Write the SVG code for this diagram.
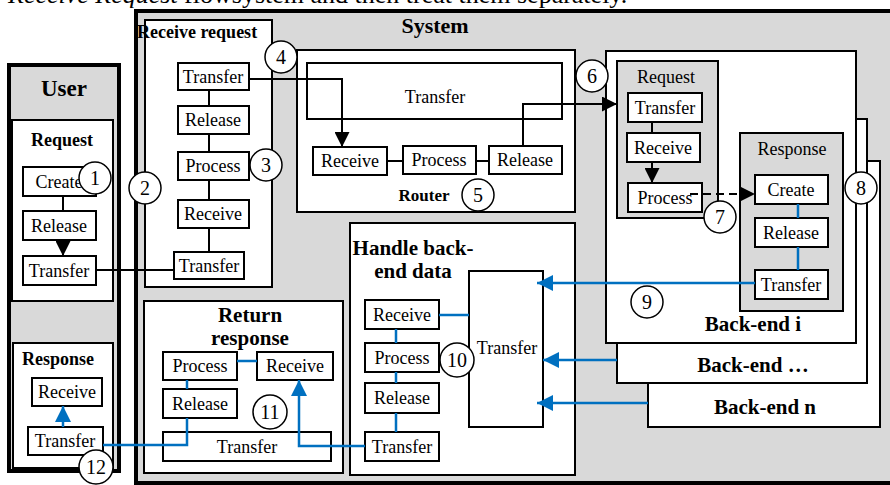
<svg xmlns="http://www.w3.org/2000/svg" width="890" height="485" viewBox="0 0 890 485">
<style>
text{font-family:"Liberation Serif","Times New Roman",serif;fill:#000}
.lbl{font-size:18px;text-anchor:middle}
.ttl{font-size:18px;font-weight:bold;text-anchor:middle}
.big{font-size:21px;font-weight:bold;text-anchor:middle}
.num{font-size:20px;text-anchor:middle}
.box{fill:#fff;stroke:#000;stroke-width:2}
.pan{fill:#fff;stroke:#000;stroke-width:2}
.gray{fill:#d9d9d9;stroke:#000;stroke-width:2}
.blk{fill:none;stroke:#000;stroke-width:2}
.blu{fill:none;stroke:#0070c0;stroke-width:2.5}
.cir{fill:#fff;stroke:#000;stroke-width:1.5}
</style>
<defs>
<marker id="ab" viewBox="0 0 10 10" refX="10" refY="5" markerWidth="15" markerHeight="15" markerUnits="userSpaceOnUse" orient="auto"><path d="M0,0L10,5L0,10z" fill="#000"/></marker>
<marker id="au" viewBox="0 0 10 10" refX="10" refY="5" markerWidth="16" markerHeight="16" markerUnits="userSpaceOnUse" orient="auto"><path d="M0,0L10,5L0,10z" fill="#0070c0"/></marker>
</defs>

<text x="8" y="3" style="font-size:26px"><tspan font-style="italic">Receive Request</tspan> flowsystem and then treat them separately.</text>

<g id="system">
<rect x="136" y="11" width="770" height="472" fill="#d9d9d9" stroke="#000" stroke-width="4"/>
<text x="435" y="33" style="font-size:22px;font-weight:bold;text-anchor:middle">System</text>
</g>

<g id="user">
<rect x="9" y="65" width="110" height="406" fill="#d9d9d9" stroke="#000" stroke-width="4"/>
<text x="64" y="96" style="font-size:23px;font-weight:bold;text-anchor:middle">User</text>
<g id="user-request">
<rect class="pan" x="12" y="120" width="101" height="181"/>
<text class="ttl" x="62" y="146">Request</text>
<g id="u-create"><rect class="box" x="23" y="167" width="73" height="29"/><text class="lbl" x="59" y="188">Create</text></g>
<g id="u-release"><rect class="box" x="23" y="211" width="73" height="29"/><text class="lbl" x="59" y="232">Release</text></g>
<g id="u-transfer"><rect class="box" x="23" y="256" width="73" height="29"/><text class="lbl" x="59" y="277">Transfer</text></g>
</g>
<g id="user-response">
<rect class="pan" x="13" y="343" width="100" height="125"/>
<text class="ttl" x="58" y="365">Response</text>
<g id="u-receive"><rect class="box" x="32" y="378" width="70" height="28"/><text class="lbl" x="67" y="398">Receive</text></g>
<g id="u-transfer2"><rect class="box" x="28" y="427" width="75" height="28"/><text class="lbl" x="65" y="447">Transfer</text></g>
</g>
</g>

<g id="receive-request">
<rect class="pan" x="145" y="20" width="127" height="267"/>
<text x="137" y="38" style="font-size:18px;font-weight:bold">Receive request</text>
<g id="rr-transfer"><rect class="box" x="178" y="63" width="71" height="27"/><text class="lbl" x="213" y="83">Transfer</text></g>
<g id="rr-release"><rect class="box" x="178" y="106" width="71" height="28"/><text class="lbl" x="213" y="126">Release</text></g>
<g id="rr-process"><rect class="box" x="178" y="152" width="71" height="28"/><text class="lbl" x="213" y="172">Process</text></g>
<g id="rr-receive"><rect class="box" x="178" y="200" width="71" height="28"/><text class="lbl" x="213" y="220">Receive</text></g>
<g id="rr-transfer2"><rect class="box" x="174" y="252" width="70" height="27"/><text class="lbl" x="209" y="272">Transfer</text></g>
</g>

<g id="router">
<rect class="pan" x="297" y="50" width="278" height="162"/>
<rect class="box" x="307" y="63" width="255" height="56"/>
<text class="lbl" x="435" y="103">Transfer</text>
<g id="ro-receive"><rect class="box" x="313" y="147" width="74" height="28"/><text class="lbl" x="350" y="167">Receive</text></g>
<g id="ro-process"><rect class="box" x="403" y="146" width="73" height="28"/><text class="lbl" x="439" y="166">Process</text></g>
<g id="ro-release"><rect class="box" x="489" y="146" width="73" height="28"/><text class="lbl" x="525" y="166">Release</text></g>
<text x="424" y="201" style="font-size:17px;font-weight:bold;text-anchor:middle">Router</text>
</g>

<g id="backend-n">
<rect class="pan" x="648" y="161" width="232" height="266"/>
<text class="big" x="765" y="414">Back-end n</text>
</g>
<g id="backend-dots">
<rect class="pan" x="617" y="119" width="250" height="264"/>
<text class="big" x="753" y="372">Back-end …</text>
</g>
<g id="backend-i">
<rect class="pan" x="606" y="51" width="250" height="292"/>
<text class="big" x="753" y="331">Back-end i</text>
<g id="be-request">
<rect class="gray" x="617" y="61" width="101" height="157"/>
<text class="lbl" x="666" y="83">Request</text>
<g id="be-transfer"><rect class="box" x="628" y="93" width="74" height="29"/><text class="lbl" x="665" y="114">Transfer</text></g>
<g id="be-receive"><rect class="box" x="627" y="133" width="73" height="29"/><text class="lbl" x="663" y="154">Receive</text></g>
<g id="be-process"><rect class="box" x="628" y="183" width="74" height="29"/><text class="lbl" x="665" y="204">Process</text></g>
</g>
<g id="be-response">
<rect class="gray" x="740" y="133" width="103" height="178"/>
<text class="lbl" x="792" y="155">Response</text>
<g id="be-create"><rect class="box" x="755" y="175" width="73" height="29"/><text class="lbl" x="791" y="196">Create</text></g>
<g id="be-release"><rect class="box" x="755" y="218" width="73" height="29"/><text class="lbl" x="791" y="239">Release</text></g>
<g id="be-transfer2"><rect class="box" x="755" y="270" width="73" height="29"/><text class="lbl" x="791" y="291">Transfer</text></g>
</g>
</g>

<g id="handle">
<rect class="pan" x="350" y="223" width="225" height="252"/>
<text class="big" x="413" y="255">Handle back-</text>
<text class="big" x="413" y="278">end data</text>
<g id="h-receive"><rect class="box" x="365" y="300" width="74" height="29"/><text class="lbl" x="402" y="321">Receive</text></g>
<g id="h-process"><rect class="box" x="365" y="343" width="74" height="29"/><text class="lbl" x="402" y="364">Process</text></g>
<g id="h-release"><rect class="box" x="365" y="383" width="74" height="30"/><text class="lbl" x="402" y="404">Release</text></g>
<g id="h-transfer"><rect class="box" x="365" y="432" width="74" height="29"/><text class="lbl" x="402" y="453">Transfer</text></g>
<g id="h-transferbig"><rect class="box" x="469" y="271" width="74" height="156"/><text class="lbl" x="507" y="354">Transfer</text></g>
</g>

<g id="return-response">
<rect class="pan" x="144" y="301" width="199" height="172"/>
<text class="big" x="250" y="322">Return</text>
<text class="big" x="250" y="345">response</text>
<g id="rt-process"><rect class="box" x="163" y="352" width="74" height="28"/><text class="lbl" x="200" y="372">Process</text></g>
<g id="rt-receive"><rect class="box" x="257" y="352" width="76" height="28"/><text class="lbl" x="295" y="372">Receive</text></g>
<g id="rt-release"><rect class="box" x="163" y="389" width="74" height="29"/><text class="lbl" x="200" y="410">Release</text></g>
<g id="rt-transfer"><rect class="box" x="163" y="432" width="168" height="29"/><text class="lbl" x="247" y="453">Transfer</text></g>
</g>

<g id="connectors">
<path class="blk" d="M63,196V211"/>
<path class="blk" d="M63,240V256" marker-end="url(#ab)"/>
<path class="blk" d="M96,270H174"/>
<path class="blk" d="M209,90V106M209,134V152M209,180V200M209,228V252"/>
<path class="blk" d="M249,79H342V147" marker-end="url(#ab)"/>
<path class="blk" d="M387,161H403M476,161H489"/>
<path class="blk" d="M523,146V104H617" marker-end="url(#ab)"/>
<path class="blk" d="M652,122V133"/>
<path class="blk" d="M652,162V183" marker-end="url(#ab)"/>
<path class="blk" d="M690,194H755" stroke-dasharray="8,5" marker-end="url(#ab)"/>
<path class="blu" d="M798,204V218M798,247V270"/>
<path class="blu" d="M755,283H537" marker-end="url(#au)"/>
<path class="blu" d="M617,360H543" marker-end="url(#au)"/>
<path class="blu" d="M648,403H537" marker-end="url(#au)"/>
<path class="blu" d="M439,315H469"/>
<path class="blu" d="M396,329V343M396,372V383M396,413V432"/>
<path class="blu" d="M365,446H299V380" marker-end="url(#au)"/>
<path class="blu" d="M237,361H257"/>
<path class="blu" d="M187,380V389"/>
<path class="blu" d="M187,418V445H103"/>
<path class="blu" d="M63,427V406" marker-end="url(#au)"/>
</g>

<g id="markers">
<g id="c1"><circle class="cir" cx="95" cy="178" r="16"/><text class="num" x="95" y="185">1</text></g>
<g id="c2"><circle class="cir" cx="145" cy="188" r="16"/><text class="num" x="145" y="195">2</text></g>
<g id="c3"><circle class="cir" cx="266" cy="165" r="16"/><text class="num" x="266" y="172">3</text></g>
<g id="c4"><circle class="cir" cx="281" cy="57" r="16"/><text class="num" x="281" y="64">4</text></g>
<g id="c5"><circle class="cir" cx="478" cy="195" r="16"/><text class="num" x="478" y="202">5</text></g>
<g id="c6"><circle class="cir" cx="592" cy="76" r="16"/><text class="num" x="592" y="83">6</text></g>
<g id="c7"><circle class="cir" cx="720" cy="217" r="16"/><text class="num" x="720" y="224">7</text></g>
<g id="c8"><circle class="cir" cx="861" cy="188" r="16"/><text class="num" x="861" y="195">8</text></g>
<g id="c9"><circle class="cir" cx="647" cy="302" r="16"/><text class="num" x="647" y="309">9</text></g>
<g id="c10"><circle class="cir" cx="457" cy="360" r="17"/><text class="num" x="457" y="367">10</text></g>
<g id="c11"><circle class="cir" cx="270" cy="412" r="17"/><text class="num" x="270" y="419">11</text></g>
<g id="c12"><circle class="cir" cx="96" cy="467" r="17"/><text class="num" x="96" y="474">12</text></g>
</g>
</svg>
